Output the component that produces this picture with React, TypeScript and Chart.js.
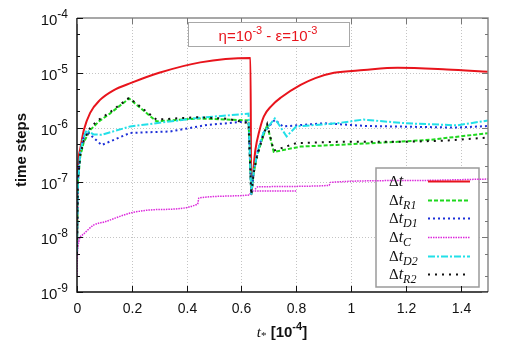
import React, { useEffect, useRef } from "react";
import Chart from "chart.js/auto";

// ---- data (t in units of 1e-4) ----
const tDt = [0, 0.002, 0.011, 0.025, 0.048, 0.084, 0.13, 0.2, 0.3, 0.45, 0.633, 0.636, 0.645, 0.651, 0.665, 0.682, 0.71, 0.743, 0.816, 0.87, 0.938, 1.047, 1.17, 1.35, 1.5];
const vDt = [5e-9, 1e-7, 3.9e-7, 9e-7, 1.86e-6, 3.2e-6, 4.7e-6, 6.6e-6, 1e-5, 1.55e-5, 1.86e-5, 6e-8, 2e-7, 3.9e-7, 8.5e-7, 1.6e-6, 2.5e-6, 3.5e-6, 6e-6, 8e-6, 1e-5, 1.12e-5, 1.23e-5, 1.15e-5, 1.05e-5];

const tR1 = [0, 0.003, 0.012, 0.025, 0.048, 0.08, 0.12, 0.19, 0.29, 0.44, 0.626, 0.636, 0.645, 0.657, 0.675, 0.694, 0.718, 0.816, 0.937, 1.17, 1.29, 1.5];
const vR1 = [5e-9, 1e-7, 3e-7, 5.5e-7, 9e-7, 1.3e-6, 1.8e-6, 3.4e-6, 1.3e-6, 1.47e-6, 1.35e-6, 6e-8, 1.5e-7, 3e-7, 6e-7, 1.12e-6, 3.6e-7, 4.5e-7, 4.8e-7, 5.5e-7, 6e-7, 7.9e-7];

const tD1 = [0, 0.003, 0.012, 0.022, 0.035, 0.09, 0.194, 0.34, 0.475, 0.626, 0.636, 0.645, 0.66, 0.68, 0.722, 0.752, 0.9, 1.057, 1.387, 1.5];
const vD1 = [5e-9, 1e-7, 3.5e-7, 6e-7, 8.5e-7, 4.8e-7, 8e-7, 8.5e-7, 1.12e-6, 1.3e-6, 6e-8, 1.6e-7, 3.8e-7, 8e-7, 1.38e-6, 1.05e-6, 1.2e-6, 1.07e-6, 1.0e-6, 1.07e-6];

const tC1 = [0, 0.002, 0.02, 0.06, 0.1, 0.2, 0.3, 0.44, 0.445, 0.63, 0.635, 0.8];
const vC1 = [1.9e-9, 5.7e-9, 1.1e-8, 1.66e-8, 1.9e-8, 2.8e-8, 3.2e-8, 4e-8, 5.2e-8, 5.9e-8, 7e-8, 7e-8];
const tC2 = [0.65, 0.66, 0.92, 0.925, 1.2, 1.5];
const vC2 = [7.5e-8, 8.3e-8, 8.8e-8, 1.0e-7, 1.08e-7, 1.15e-7];

const tD2 = [0, 0.003, 0.012, 0.022, 0.035, 0.06, 0.09, 0.194, 0.44, 0.626, 0.636, 0.645, 0.66, 0.68, 0.722, 0.765, 0.8, 0.948, 1.045, 1.2, 1.387, 1.5];
const vD2 = [5e-9, 1e-7, 3.5e-7, 6.2e-7, 9e-7, 7.5e-7, 7.4e-7, 1.05e-6, 1.5e-6, 1.8e-6, 6e-8, 1.6e-7, 3.8e-7, 8e-7, 1.47e-6, 6.9e-7, 1.05e-6, 1.2e-6, 1.4e-6, 1.2e-6, 1.1e-6, 1.35e-6];

const tR2 = [0, 0.003, 0.012, 0.025, 0.048, 0.08, 0.12, 0.19, 0.29, 0.44, 0.55, 0.626, 0.636, 0.645, 0.657, 0.675, 0.694, 0.718, 0.8, 0.95, 1.2, 1.35, 1.5];
const vR2 = [5e-9, 1e-7, 3.2e-7, 5.8e-7, 1e-6, 1.4e-6, 1.9e-6, 3.5e-6, 1.4e-6, 1.55e-6, 1.45e-6, 1.2e-6, 6e-8, 1.5e-7, 3e-7, 6e-7, 1.15e-6, 3.8e-7, 5.2e-7, 5.5e-7, 5.5e-7, 5.8e-7, 6.6e-7];

const xTicks = [0, 0.2, 0.4, 0.6, 0.8, 1, 1.2, 1.4];
const xTickLabels = ["0", "0.2", "0.4", "0.6", "0.8", "1", "1.2", "1.4"];
const yExps = [-9, -8, -7, -6, -5, -4];

const legendSubs = ["", "R1", "D1", "C", "D2", "R2"];

const SANS = "'Liberation Sans', Arial, sans-serif";
const SERIF = "'Liberation Serif', 'Times New Roman', serif";

type Part = { text: string; font: string; dy?: number; color?: string };

function richWidth(ctx: CanvasRenderingContext2D, parts: Part[]) {
  let w = 0;
  for (const p of parts) {
    ctx.font = p.font;
    w += ctx.measureText(p.text).width;
  }
  return w;
}
function drawRich(ctx: CanvasRenderingContext2D, parts: Part[], x: number, y: number, align: "left" | "center" | "right", color: string) {
  const w = richWidth(ctx, parts);
  let cx = align === "left" ? x : align === "center" ? x - w / 2 : x - w;
  ctx.textAlign = "left";
  ctx.textBaseline = "alphabetic";
  for (const p of parts) {
    ctx.font = p.font;
    ctx.fillStyle = p.color || color;
    ctx.fillText(p.text, cx, y + (p.dy || 0));
    cx += ctx.measureText(p.text).width;
  }
}

const mk = (ts: number[], vs: number[]) => ts.map((t, i) => ({ x: t, y: vs[i] }));

const styles = [
  { color: "#e8141c", width: 2, dash: [] as number[], smooth: true },
  { color: "#1ed81e", width: 2, dash: [4, 2], smooth: false },
  { color: "#1c2fd8", width: 2, dash: [2, 3], smooth: false },
  { color: "#dc28dc", width: 1.5, dash: [1.5, 1], smooth: true },
  { color: "#22e0e8", width: 2, dash: [7, 2, 2, 2], smooth: false },
  { color: "#111111", width: 2, dash: [2, 5], smooth: false },
];

const decor = {
  id: "decor",
  beforeDatasetsDraw(chart: any) {
    const { ctx, chartArea: a, scales } = chart;
    const x = scales.x, y = scales.y;
    ctx.save();
    ctx.strokeStyle = "#c4c4c4";
    ctx.lineWidth = 1;
    ctx.setLineDash([1, 2]);
    for (const t of xTicks) {
      if (t === 0) continue;
      const px = Math.round(x.getPixelForValue(t)) + 0.5;
      ctx.beginPath(); ctx.moveTo(px, a.top); ctx.lineTo(px, a.bottom); ctx.stroke();
    }
    for (const e of yExps) {
      if (e === -9 || e === -4) continue;
      const py = Math.round(y.getPixelForValue(Math.pow(10, e))) + 0.5;
      ctx.beginPath(); ctx.moveTo(a.left, py); ctx.lineTo(a.right, py); ctx.stroke();
    }
    ctx.setLineDash([]);
    ctx.fillStyle = "#ffffff";
    ctx.fillRect(376, 168, 103, 119);
    ctx.strokeStyle = "#9a9a9a";
    ctx.lineWidth = 1.5;
    ctx.strokeRect(376, 168, 103, 119);
    ctx.restore();
  },
  afterDatasetsDraw(chart: any) {
    const { ctx, chartArea: a, scales } = chart;
    const x = scales.x, y = scales.y;
    ctx.save();
    const rows = [181, 200, 218, 237, 256, 274];
    styles.forEach((s, i) => {
      const ry = rows[i];
      const parts: Part[] = [
        { text: "\u0394", font: `15px ${SERIF}` },
        { text: "t", font: `italic 16px ${SERIF}` },
      ];
      if (legendSubs[i]) parts.push({ text: legendSubs[i], font: `italic 12px ${SERIF}`, dy: 4 });
      drawRich(ctx, parts, 389, ry + 5, "left", "#111");
      ctx.strokeStyle = s.color;
      ctx.lineWidth = s.width;
      ctx.setLineDash(s.dash);
      ctx.beginPath(); ctx.moveTo(428, ry + 0.5); ctx.lineTo(470, ry + 0.5); ctx.stroke();
      ctx.setLineDash([]);
    });
    ctx.lineWidth = 1.5;
    ctx.strokeStyle = "#8a8a8a";
    ctx.beginPath(); ctx.moveTo(a.left, a.top); ctx.lineTo(a.right, a.top); ctx.lineTo(a.right, a.bottom); ctx.stroke();
    ctx.strokeStyle = "#111";
    ctx.beginPath(); ctx.moveTo(a.left, a.top); ctx.lineTo(a.left, a.bottom); ctx.lineTo(a.right, a.bottom); ctx.stroke();
    ctx.lineWidth = 1;
    xTicks.forEach((t, i) => {
      const px = Math.round(x.getPixelForValue(t)) + 0.5;
      ctx.strokeStyle = "#111";
      ctx.beginPath(); ctx.moveTo(px, a.bottom); ctx.lineTo(px, a.bottom - 6); ctx.stroke();
      ctx.strokeStyle = "#777";
      ctx.beginPath(); ctx.moveTo(px, a.top); ctx.lineTo(px, a.top + 6); ctx.stroke();
      ctx.fillStyle = "#111";
      ctx.font = `14px ${SANS}`;
      ctx.textAlign = "center";
      ctx.textBaseline = "middle";
      ctx.fillText(xTickLabels[i], px, 309);
    });
    yExps.forEach((e) => {
      const py = Math.round(y.getPixelForValue(Math.pow(10, e))) + 0.5;
      ctx.strokeStyle = "#111";
      ctx.beginPath(); ctx.moveTo(a.left, py); ctx.lineTo(a.left + 6, py); ctx.stroke();
      ctx.strokeStyle = "#777";
      ctx.beginPath(); ctx.moveTo(a.right, py); ctx.lineTo(a.right - 6, py); ctx.stroke();
      if (e < -4) {
        for (const m of [2, 5]) {
          const pm = Math.round(y.getPixelForValue(m * Math.pow(10, e))) + 0.5;
          ctx.strokeStyle = "#111";
          ctx.beginPath(); ctx.moveTo(a.left, pm); ctx.lineTo(a.left + 3, pm); ctx.stroke();
          ctx.strokeStyle = "#777";
          ctx.beginPath(); ctx.moveTo(a.right, pm); ctx.lineTo(a.right - 3, pm); ctx.stroke();
        }
      }
      drawRich(ctx, [
        { text: "10", font: `15px ${SANS}` },
        { text: String(e), font: `12px ${SANS}`, dy: -7 },
      ], 68, py + 6, "right", "#111");
    });
    ctx.save();
    ctx.translate(22, 150);
    ctx.rotate(-Math.PI / 2);
    ctx.font = `bold 15px ${SANS}`;
    ctx.fillStyle = "#111";
    ctx.textAlign = "center";
    ctx.textBaseline = "middle";
    ctx.fillText("time steps", 0, 0);
    ctx.restore();
    drawRich(ctx, [
      { text: "t", font: `italic 15px ${SERIF}` },
      { text: "*", font: `11px ${SERIF}`, dy: 2 },
      { text: " [10", font: `bold 15px ${SANS}` },
      { text: "-4", font: `bold 11px ${SANS}`, dy: -7 },
      { text: "]", font: `bold 15px ${SANS}` },
    ], 282, 337, "center", "#111");
    ctx.fillStyle = "#fff";
    ctx.fillRect(188.5, 22.5, 161, 24);
    ctx.strokeStyle = "#a8a8a8";
    ctx.lineWidth = 1;
    ctx.strokeRect(188.5, 22.5, 161, 24);
    drawRich(ctx, [
      { text: "\u03b7=10", font: `15px ${SANS}` },
      { text: "-3", font: `11px ${SANS}`, dy: -7 },
      { text: " - \u03b5=10", font: `15px ${SANS}` },
      { text: "-3", font: `11px ${SANS}`, dy: -7 },
    ], 268, 41, "center", "#e8141c");
    ctx.restore();
  },
};

export default function App() {
  const ref = useRef<HTMLCanvasElement | null>(null);
  useEffect(() => {
    if (!ref.current) return;
    const series = [mk(tDt, vDt), mk(tR1, vR1), mk(tD1, vD1), mk(tC1, vC1), mk(tD2, vD2), mk(tR2, vR2)];
    const datasets: any[] = series.map((d, i) => ({
      data: d,
      borderColor: styles[i].color,
      borderWidth: styles[i].width,
      borderDash: styles[i].dash,
      pointRadius: 0,
      fill: false,
      tension: 0,
      cubicInterpolationMode: styles[i].smooth ? "monotone" : "default",
      order: 6 - i,
    }));
    datasets.push({
      data: mk(tC2, vC2),
      borderColor: styles[3].color,
      borderWidth: styles[3].width,
      borderDash: styles[3].dash,
      pointRadius: 0,
      fill: false,
      cubicInterpolationMode: "monotone",
      order: 3,
    });
    const chart = new Chart(ref.current, {
      type: "line",
      data: { datasets },
      options: {
        animation: false,
        responsive: false,
        maintainAspectRatio: false,
        layout: { padding: { left: 77, right: 24, top: 18, bottom: 66 } },
        plugins: { legend: { display: false }, tooltip: { enabled: false }, title: { display: false } },
        scales: {
          x: {
            type: "linear", min: 0, max: 1.5,
            grid: { display: false }, ticks: { display: false }, border: { display: false },
            afterFit: (s: any) => { s.height = 0; s.paddingLeft = 0; s.paddingRight = 0; },
          },
          y: {
            type: "logarithmic", min: 1e-9, max: 1e-4,
            grid: { display: false }, ticks: { display: false }, border: { display: false },
            afterFit: (s: any) => { s.width = 0; s.paddingTop = 0; s.paddingBottom = 0; },
          },
        },
      },
      plugins: [decor],
    } as any);
    return () => chart.destroy();
  }, []);
  return (
    <div style={{ position: "fixed", left: 0, top: 0, width: 512, height: 358, background: "#fff" }}>
      <canvas ref={ref} width={512} height={358} style={{ width: 512, height: 358 }} />
    </div>
  );
}
